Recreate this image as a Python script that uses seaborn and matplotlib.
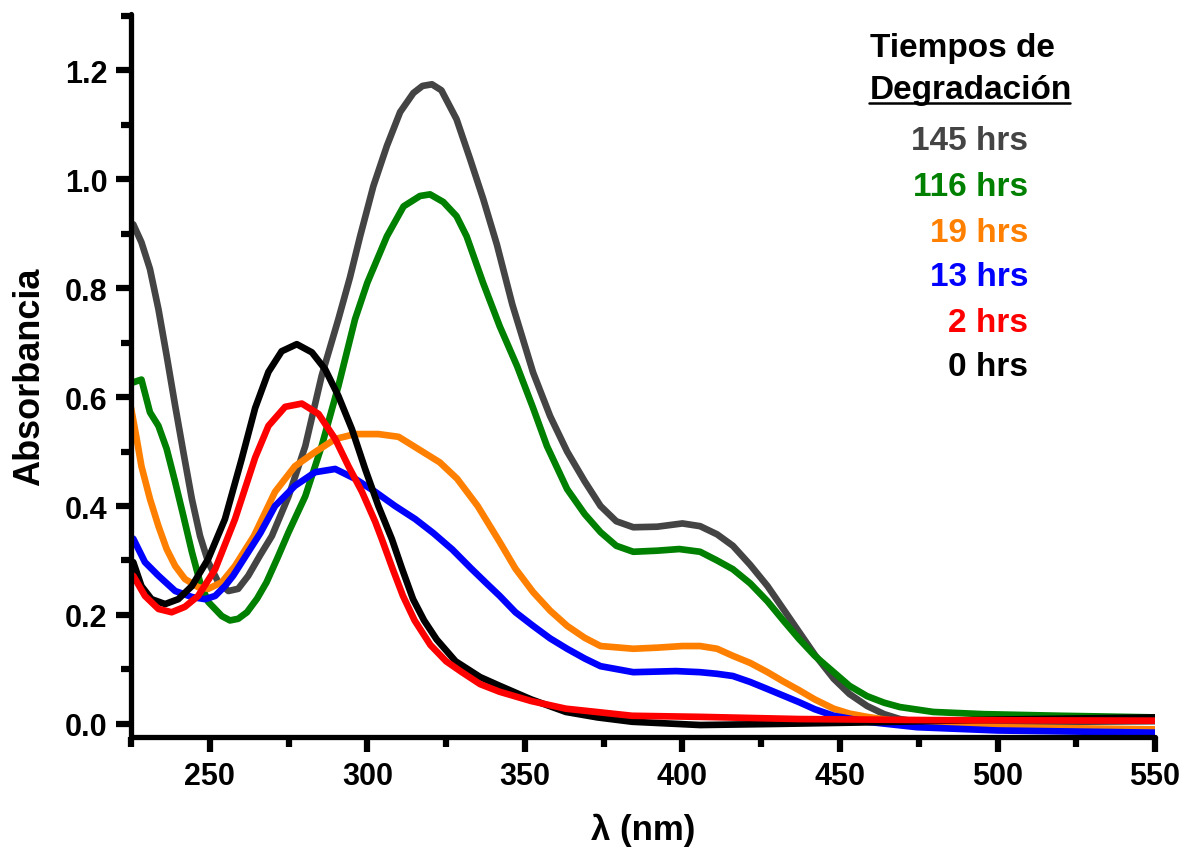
import matplotlib
matplotlib.use("Agg")
import matplotlib.pyplot as plt
import seaborn as sns
import pandas as pd
from matplotlib.ticker import MultipleLocator, FormatStrFormatter
from matplotlib.lines import Line2D

# ---------------- data ----------------
wl_145 = [225.7, 228.3, 231, 233.7, 236.3, 239, 241.6, 244.3, 246.9, 249.5, 252.7, 255.9, 259, 262.2, 266,
          269.7, 275, 280.3, 285.5, 290.8, 294.5, 297.7, 301.9, 306.2, 310.4, 314.6, 317.5, 320.5, 323.5,
          328.3, 332.6, 336.8, 341.1, 346, 352.6, 358, 363.4, 369, 374, 379, 384.4, 392, 400, 405.6, 411,
          416, 421.5, 427, 432, 437, 442, 448, 453, 458.6, 464, 469, 477, 485, 500, 525, 550]
ab_145 = [0.917, 0.884, 0.835, 0.761, 0.676, 0.584, 0.499, 0.413, 0.345, 0.297, 0.26, 0.244, 0.248, 0.272,
          0.31, 0.345, 0.418, 0.51, 0.639, 0.743, 0.82, 0.895, 0.987, 1.061, 1.123, 1.158, 1.171, 1.174,
          1.163, 1.11, 1.037, 0.963, 0.88, 0.77, 0.645, 0.565, 0.50, 0.445, 0.40, 0.372, 0.361, 0.362,
          0.368, 0.363, 0.348, 0.327, 0.292, 0.253, 0.211, 0.169, 0.127, 0.083, 0.055, 0.033, 0.018,
          0.009, 0.002, 0.000, 0.002, 0.004, 0.005]

wl_116 = [225.7, 228.3, 231, 233.7, 236.3, 239, 241.6, 244.3, 246.9, 249.5, 253.8, 256.4, 259, 261.8, 265,
          268, 271.5, 275, 280.3, 285.5, 290.8, 296.1, 300, 306.2, 311.5, 316.7, 319.9, 324.1, 328.3, 331.5,
          336.7, 342, 347.5, 352.6, 357, 363.4, 369, 374, 379, 384.4, 392, 399, 405.6, 411, 416, 421.5, 427,
          432, 437, 442, 448, 453, 458.6, 464, 469, 479.6, 495.5, 520, 550]
ab_116 = [0.627, 0.632, 0.572, 0.547, 0.505, 0.444, 0.382, 0.316, 0.26, 0.224, 0.198, 0.19, 0.193, 0.205,
          0.23, 0.26, 0.305, 0.352, 0.418, 0.51, 0.62, 0.743, 0.81, 0.895, 0.95, 0.969, 0.972, 0.958, 0.932,
          0.895, 0.81, 0.73, 0.657, 0.58, 0.51, 0.431, 0.385, 0.352, 0.327, 0.316, 0.318, 0.321, 0.316,
          0.300, 0.284, 0.258, 0.225, 0.19, 0.156, 0.125, 0.095, 0.07, 0.051, 0.039, 0.031, 0.022, 0.018,
          0.015, 0.012]

wl_19 = [225, 226.8, 228.3, 231, 233.7, 236.3, 239, 242.1, 246.3, 249.5, 253.8, 258, 264, 270.7, 277, 283.4,
         289.8, 296.1, 303.5, 309.9, 314.1, 323, 328.5, 335, 342, 347, 352.6, 358, 363.4, 369, 374,
         384.4, 392, 400, 405.6, 411, 416, 421.5, 427, 432, 437, 442, 448, 453, 458.6, 469, 485, 500, 525, 550]
ab_19 = [0.58, 0.523, 0.473, 0.413, 0.363, 0.321, 0.29, 0.266, 0.251, 0.248, 0.26, 0.29, 0.345, 0.426, 0.473,
         0.499, 0.523, 0.532, 0.532, 0.527, 0.512, 0.48, 0.45, 0.40, 0.334, 0.285, 0.242, 0.208, 0.18,
         0.158, 0.143, 0.138, 0.14, 0.143, 0.143, 0.138, 0.125, 0.112, 0.095, 0.078, 0.062, 0.045, 0.028,
         0.019, 0.013, 0.004, -0.003, -0.006, -0.008, -0.01]

wl_13 = [225.7, 229.4, 233.7, 239, 244.3, 248.5, 251.7, 254.8, 257.4, 262.8, 266, 270.7, 277, 283.4, 289.8,
         296.1, 302.5, 308.8, 315.2, 321, 327, 333, 338, 342, 347, 352.6, 358, 363.4, 369, 374, 384.4, 398,
         405.6, 411, 416, 421.5, 427, 432, 437, 442, 448, 458.6, 474.5, 500, 525, 550]
ab_13 = [0.34, 0.297, 0.272, 0.244, 0.233, 0.229, 0.235, 0.253, 0.272, 0.321, 0.35, 0.40, 0.437, 0.462,
         0.468, 0.45, 0.426, 0.40, 0.376, 0.35, 0.32, 0.285, 0.257, 0.235, 0.205, 0.18, 0.157, 0.138, 0.12,
         0.106, 0.095, 0.097, 0.095, 0.092, 0.088, 0.077, 0.064, 0.052, 0.04, 0.027, 0.015, 0.004, -0.006,
         -0.012, -0.014, -0.016]

wl_0 = [225.7, 228.3, 231.5, 235.8, 240, 244.3, 249.5, 254.8, 260.1, 264.4, 268.6, 272.8, 277.6, 282.4,
        286.6, 290.8, 295.1, 299.3, 303.5, 307.8, 311, 314.5, 318, 322, 328, 335.8, 342, 352, 363, 373, 384,
        405.6, 430, 460, 500, 550]
ab_0 = [0.297, 0.253, 0.229, 0.22, 0.229, 0.253, 0.303, 0.376, 0.486, 0.58, 0.646, 0.684, 0.697, 0.682,
        0.651, 0.602, 0.541, 0.468, 0.40, 0.339, 0.285, 0.229, 0.19, 0.155, 0.115, 0.086, 0.07, 0.045, 0.022,
        0.012, 0.004, -0.002, 0.0, 0.003, 0.008, 0.012]

wl_2 = [225.7, 229.4, 233.7, 237.9, 242.1, 246.3, 251.7, 258, 264.4, 268.6, 273.9, 279.2, 284.5, 289.8, 294,
        298.3, 302.5, 304.6, 308, 311.3, 315, 320, 325, 330, 335.8, 342, 352, 363, 384, 405.6, 437, 480, 550]
ab_2 = [0.272, 0.235, 0.211, 0.205, 0.215, 0.235, 0.284, 0.376, 0.489, 0.547, 0.582, 0.588, 0.569, 0.523,
        0.473, 0.426, 0.371, 0.339, 0.285, 0.235, 0.19, 0.145, 0.115, 0.095, 0.073, 0.059, 0.042, 0.028,
        0.015, 0.013, 0.009, 0.007, 0.006]

series_names = ["145 hrs", "116 hrs", "19 hrs", "13 hrs", "0 hrs", "2 hrs"]
series_colors = ["#444444", "#008000", "#ff8000", "#0000ff", "#000000", "#ff0000"]
legend_order = ["145 hrs", "116 hrs", "19 hrs", "13 hrs", "2 hrs", "0 hrs"]

x_ticks = [250, 300, 350, 400, 450, 500, 550]
y_ticks = [0.0, 0.2, 0.4, 0.6, 0.8, 1.0, 1.2]

# ---------------- figure ----------------
sns.set_style("ticks")
plt.rcParams["font.family"] = ["Liberation Sans", "DejaVu Sans"]
plt.rcParams["font.weight"] = "bold"
for k in ["text.color", "axes.labelcolor", "xtick.color", "ytick.color", "axes.edgecolor"]:
    plt.rcParams[k] = "black"

frames = []
for name, wl, ab in zip(series_names,
                        [wl_145, wl_116, wl_19, wl_13, wl_0, wl_2],
                        [ab_145, ab_116, ab_19, ab_13, ab_0, ab_2]):
    frames.append(pd.DataFrame({"wl": wl, "abs": ab, "series": name}))
df = pd.concat(frames, ignore_index=True)
palette = dict(zip(series_names, series_colors))

fig = plt.figure(figsize=(11.87, 8.53), dpi=100)
ax = fig.add_axes([0.1104, 0.1348, 0.8627, 0.8476])

sns.lineplot(data=df, x="wl", y="abs", hue="series", hue_order=series_names,
             palette=palette, linewidth=4.8, estimator=None, legend=False, ax=ax)
for ln in ax.get_lines():
    ln.set_solid_joinstyle("round")
    ln.set_solid_capstyle("round")

ax.set_xlim(225, 550)
ax.set_ylim(-0.024, 1.303)
ax.set_xticks(x_ticks)
ax.set_yticks(y_ticks)
ax.xaxis.set_minor_locator(MultipleLocator(25))
ax.yaxis.set_minor_locator(MultipleLocator(0.1))
ax.yaxis.set_major_formatter(FormatStrFormatter("%.1f"))

for s in ["top", "right"]:
    ax.spines[s].set_visible(False)
for s in ["left", "bottom"]:
    ax.spines[s].set_linewidth(3.8)
    ax.spines[s].set_color("black")
    ax.spines[s].set_capstyle("round")
    ax.spines[s].set_zorder(5)

ax.tick_params(which="major", direction="out", length=11, width=4.5, color="black",
               labelsize=22, pad=6, labelcolor="black", bottom=True, left=True)
ax.tick_params(which="minor", direction="out", length=7, width=4.5, color="black",
               bottom=True, left=True)
for lab in ax.get_xticklabels() + ax.get_yticklabels():
    lab.set_fontweight("bold")

ax.set_xlabel("λ (nm)", fontsize=25, fontweight="bold", labelpad=16)
ax.set_ylabel("Absorbancia", fontsize=26, fontweight="bold", labelpad=13)

# legend as coloured text
W, H = 1187.0, 853.0
fig.text(870 / W, 1 - 48 / H, "Tiempos de", fontsize=24, fontweight="bold",
         ha="left", va="center", color="black")
fig.text(870 / W, 1 - 90 / H, "Degradación", fontsize=24, fontweight="bold",
         ha="left", va="center", color="black")
fig.add_artist(Line2D([869 / W, 1070 / W], [1 - 104 / H, 1 - 104 / H],
                      color="black", linewidth=1.8, transform=fig.transFigure))
y_pos = [142, 187, 233, 278, 323, 368]
for name, yp in zip(legend_order, y_pos):
    fig.text(1028 / W, 1 - yp / H, name, fontsize=24, fontweight="bold",
             ha="right", va="center", color=palette[name])

fig.savefig("out.png", dpi=100)
